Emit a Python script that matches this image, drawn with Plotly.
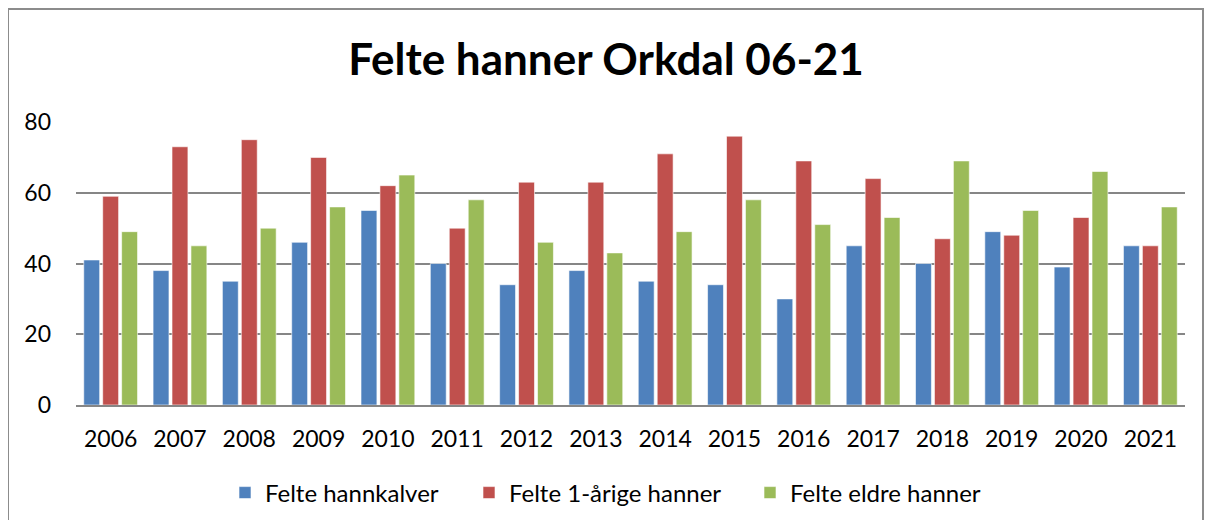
import plotly.graph_objects as go

# data
years = ["2006", "2007", "2008", "2009", "2010", "2011", "2012", "2013",
         "2014", "2015", "2016", "2017", "2018", "2019", "2020", "2021"]
hannkalver = [41, 38, 35, 46, 55, 40, 34, 38, 35, 34, 30, 45, 40, 49, 39, 45]
ettaarige = [59, 73, 75, 70, 62, 50, 63, 63, 71, 76, 69, 64, 47, 48, 53, 45]
eldre = [49, 45, 50, 56, 65, 58, 46, 43, 49, 58, 51, 53, 69, 55, 66, 56]

series_names = ["Felte hannkalver", "Felte 1-årige hanner", "Felte eldre hanner"]
colors = ["#4F81BD", "#C0504D", "#9BBB59"]

# page has an 8px body margin, so the figure is drawn 8px smaller
W, H = 1196, 512
m_l, m_r, m_t, m_b = 68, 19, 114, 115
FONT = "Lato, Open Sans, sans-serif"

# one legend per series so each entry sits where it does in the original
legend_ids = ["legend", "legend2", "legend3"]
legend_text_x = [257, 501, 782]

fig = go.Figure()
for name, vals, col, lg in zip(series_names, [hannkalver, ettaarige, eldre], colors, legend_ids):
    fig.add_trace(go.Bar(
        x=years, y=vals, name=name, legend=lg,
        marker=dict(color=col, line=dict(color="rgba(255,255,255,0.6)", width=1)),
    ))

plot_h = H - m_t - m_b

legends = {}
for lg, tx in zip(legend_ids, legend_text_x):
    legends[lg] = dict(orientation="h", xref="container", yref="container",
                       x=(tx - 40) / W, xanchor="left",
                       y=1 - 485 / H, yanchor="middle",
                       font=dict(size=24), itemwidth=30, bgcolor="rgba(0,0,0,0)")

fig.update_layout(
    width=W, height=H,
    margin=dict(l=m_l, r=m_r, t=m_t, b=m_b),
    paper_bgcolor="white", plot_bgcolor="white",
    font=dict(family=FONT, color="black", size=23),
    title=dict(text="<b>Felte hanner Orkdal 06-21</b>", x=0.5, xanchor="center",
               y=1 - 52 / H, yanchor="middle",
               font=dict(size=44, family=FONT, color="black")),
    barmode="group", bargap=0.18, bargroupgap=0.16,
    showlegend=True,
    **legends,
)

fig.update_xaxes(showgrid=False, showline=True, linecolor="#868686", linewidth=2,
                 ticks="", tickfont=dict(size=23), ticklabelstandoff=12)
fig.update_yaxes(range=[0, 80], dtick=20, showgrid=True, gridcolor="#868686",
                 gridwidth=2, zeroline=False, showline=False, ticks="",
                 tickfont=dict(size=23), ticklabelstandoff=24)

# outer chart border
x0 = (0 - m_l) / (W - m_l - m_r)
x1 = (1195 - m_l) / (W - m_l - m_r)
y1 = (H - m_b - 1) / plot_h
y0 = (H - m_b - 540) / plot_h
fig.add_shape(type="rect", xref="paper", yref="paper", x0=x0, x1=x1, y0=y0, y1=y1,
              line=dict(color="#8c8c8c", width=2), fillcolor="rgba(0,0,0,0)", layer="below")

fig.write_html("out.html")
